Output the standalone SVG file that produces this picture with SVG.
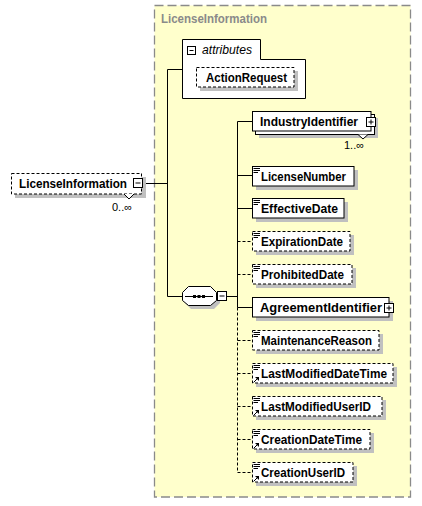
<svg xmlns="http://www.w3.org/2000/svg" width="422" height="506" viewBox="0 0 422 506">
<defs>
<style>
.bg{fill:#fff}
.frame{fill:#ffffcc;stroke:#8a8a8a;stroke-width:1.3;stroke-dasharray:9,4}
.box{fill:#fff;stroke:#000;stroke-width:1}
.dbox{fill:#fff;stroke:#000;stroke-width:1;stroke-dasharray:3,2}
.shadow{fill:#c0c0c0}
.ln{stroke:#000;stroke-width:1;fill:none}
.dln{stroke:#000;stroke-width:1;fill:none;stroke-dasharray:3,2}
.lbl{font-family:"Liberation Sans",Arial,sans-serif;font-weight:bold;font-size:12px;fill:#000}
.title{font-family:"Liberation Sans",Arial,sans-serif;font-weight:bold;font-size:12px;fill:#8a8a8a}
.occ{font-family:"Liberation Sans",Arial,sans-serif;font-size:11px;fill:#000}
.ital{font-family:"Liberation Sans",Arial,sans-serif;font-style:italic;font-size:12px;fill:#000}
.icon{stroke:#000;stroke-width:1;fill:none}
</style>
<g id="lines-icon">
<path class="icon" d="M253.5,0.5H260M253.5,2.5H260M253.5,4.5H258"/>
</g>
<g id="ref-icon">
<path class="icon" d="M253.5,19.5L257.5,15.5"/>
<path d="M255,14H259V18Z" fill="#000"/>
</g>
</defs>
<rect class="bg" x="0" y="0" width="422" height="506"/>

<g id="container">
<rect class="frame" x="154.5" y="5.5" width="256" height="491.5"/>
<text class="title" x="161" y="23" textLength="106" lengthAdjust="spacingAndGlyphs">LicenseInformation</text>
</g>

<g id="connectors">
<path class="ln" d="M143,183.5H167.5M167.5,69.5V296.5M167.5,69.5H182M167.5,296.5H182M226,296.5H237.5"/>
<path class="ln" d="M237.5,121.5V307.5"/>
<path class="dln" d="M237.5,307.5V472.5"/>
<path class="ln" d="M237.5,121.5H252M237.5,175.5H252M237.5,208.5H252M237.5,307.5H252"/>
<path class="dln" d="M237.5,241.5H252M237.5,274.5H252M237.5,340.5H252M237.5,373.5H252M237.5,406.5H252M237.5,439.5H252M237.5,472.5H252"/>
</g>

<g id="node-LicenseInformation">
<rect class="shadow" x="15" y="177" width="131" height="21"/>
<rect class="dbox" x="11.5" y="173.5" width="130" height="20.5"/>
<polyline points="124,194 129,199 134,194" fill="#fff" stroke="#000" stroke-width="1"/>
<text class="lbl" x="19" y="188" textLength="108" lengthAdjust="spacingAndGlyphs">LicenseInformation</text>
<rect class="box" x="133.5" y="178.5" width="9" height="9"/>
<path class="ln" d="M135.5,183H140.5"/>
<text class="occ" x="112" y="211">0..∞</text>
</g>

<g id="node-attributes">
<path class="box" d="M182.5,39.5H260.5V59.5H305.5V98.5H182.5Z"/>
<rect class="box" x="187.5" y="46.5" width="8" height="8"/>
<path class="ln" d="M189.5,50.5H193.5"/>
<text class="ital" x="202" y="54" textLength="50" lengthAdjust="spacingAndGlyphs">attributes</text>
</g>

<g id="node-ActionRequest">
<rect class="shadow" x="200" y="71" width="98" height="20"/>
<rect class="dbox" x="196.5" y="67.5" width="97.5" height="19.5"/>
<text class="lbl" x="206" y="82" textLength="81" lengthAdjust="spacingAndGlyphs">ActionRequest</text>
</g>

<g id="node-sequence">
<polygon class="shadow" points="191,290 214,290 220,296 220,303 214,309 191,309 185,303 185,296"/>
<polygon points="188.5,286.5 210.5,286.5 216.5,292.5 216.5,300.5 210.5,305.5 188.5,305.5 182.5,300.5 182.5,292.5" fill="#fff" stroke="#000" stroke-width="1"/>
<path class="ln" d="M185,296.5H213"/>
<rect x="193" y="295" width="3" height="3" fill="#000"/>
<rect x="197.5" y="295" width="3" height="3" fill="#000"/>
<rect x="202" y="295" width="3" height="3" fill="#000"/>
<rect class="box" x="217.5" y="291.5" width="9" height="9"/>
<path class="ln" d="M219.5,296H224.5"/>
</g>

<g id="node-IndustryIdentifier">
<rect class="shadow" x="259" y="118" width="119" height="20"/>
<rect class="box" x="255.5" y="114.5" width="119" height="20"/>
<rect class="box" x="252.5" y="111.5" width="118.5" height="19.5"/>
<polyline points="358,134.5 363,139 368,134.5" fill="#fff" stroke="#000" stroke-width="1"/>
<text class="lbl" x="260" y="126" textLength="98" lengthAdjust="spacingAndGlyphs">IndustryIdentifier</text>
<rect class="box" x="366.5" y="117.5" width="9" height="9"/>
<path class="ln" d="M368.5,122H373.5M371,119.5V124.5"/>
<text class="occ" x="344" y="149">1..∞</text>
</g>

<g id="node-LicenseNumber">
<rect class="shadow" x="256" y="170" width="102" height="20"/>
<rect class="box" x="252.5" y="166.5" width="101.5" height="19.5"/>
<use href="#lines-icon" y="168"/>
<text class="lbl" x="261" y="180.5" textLength="85" lengthAdjust="spacingAndGlyphs">LicenseNumber</text>
</g>

<g id="node-EffectiveDate">
<rect class="shadow" x="256" y="202" width="92" height="20"/>
<rect class="box" x="252.5" y="198.5" width="91.5" height="19.5"/>
<use href="#lines-icon" y="200"/>
<text class="lbl" x="261" y="213" textLength="77" lengthAdjust="spacingAndGlyphs">EffectiveDate</text>
</g>

<g id="node-ExpirationDate">
<rect class="shadow" x="256" y="235" width="98" height="20"/>
<rect class="dbox" x="252.5" y="231.5" width="97.5" height="19.5"/>
<use href="#lines-icon" y="233"/>
<text class="lbl" x="261" y="246" textLength="82" lengthAdjust="spacingAndGlyphs">ExpirationDate</text>
</g>

<g id="node-ProhibitedDate">
<rect class="shadow" x="256" y="268" width="100" height="20"/>
<rect class="dbox" x="252.5" y="264.5" width="99.5" height="19.5"/>
<use href="#lines-icon" y="266"/>
<text class="lbl" x="261" y="279" textLength="83" lengthAdjust="spacingAndGlyphs">ProhibitedDate</text>
</g>

<g id="node-AgreementIdentifier">
<rect class="shadow" x="256" y="301" width="137" height="20"/>
<rect class="box" x="252.5" y="297.5" width="136.5" height="19.5"/>
<text class="lbl" x="260" y="312" textLength="122" lengthAdjust="spacingAndGlyphs">AgreementIdentifier</text>
<rect class="box" x="384.5" y="303.5" width="9" height="9"/>
<path class="ln" d="M386.5,308H391.5M389,305.5V310.5"/>
</g>

<g id="node-MaintenanceReason">
<rect class="shadow" x="256" y="334" width="127" height="20"/>
<rect class="dbox" x="252.5" y="330.5" width="126.5" height="19.5"/>
<use href="#lines-icon" y="332"/>
<text class="lbl" x="261" y="345" textLength="111" lengthAdjust="spacingAndGlyphs">MaintenanceReason</text>
</g>

<g id="node-LastModifiedDateTime">
<rect class="shadow" x="256" y="367" width="141" height="20"/>
<rect class="dbox" x="252.5" y="363.5" width="140.5" height="19.5"/>
<use href="#lines-icon" y="365"/>
<use href="#ref-icon" y="363"/>
<text class="lbl" x="261" y="378" textLength="126" lengthAdjust="spacingAndGlyphs">LastModifiedDateTime</text>
</g>

<g id="node-LastModifiedUserID">
<rect class="shadow" x="256" y="400" width="130" height="20"/>
<rect class="dbox" x="252.5" y="396.5" width="129.5" height="19.5"/>
<use href="#lines-icon" y="398"/>
<use href="#ref-icon" y="396"/>
<text class="lbl" x="261" y="411" textLength="110" lengthAdjust="spacingAndGlyphs">LastModifiedUserID</text>
</g>

<g id="node-CreationDateTime">
<rect class="shadow" x="256" y="433" width="118" height="20"/>
<rect class="dbox" x="252.5" y="429.5" width="117.5" height="19.5"/>
<use href="#lines-icon" y="431"/>
<use href="#ref-icon" y="429"/>
<text class="lbl" x="261" y="444" textLength="101" lengthAdjust="spacingAndGlyphs">CreationDateTime</text>
</g>

<g id="node-CreationUserID">
<rect class="shadow" x="256" y="466" width="101" height="20"/>
<rect class="dbox" x="252.5" y="462.5" width="100.5" height="19.5"/>
<use href="#lines-icon" y="464"/>
<use href="#ref-icon" y="462"/>
<text class="lbl" x="261" y="477" textLength="84" lengthAdjust="spacingAndGlyphs">CreationUserID</text>
</g>
</svg>
